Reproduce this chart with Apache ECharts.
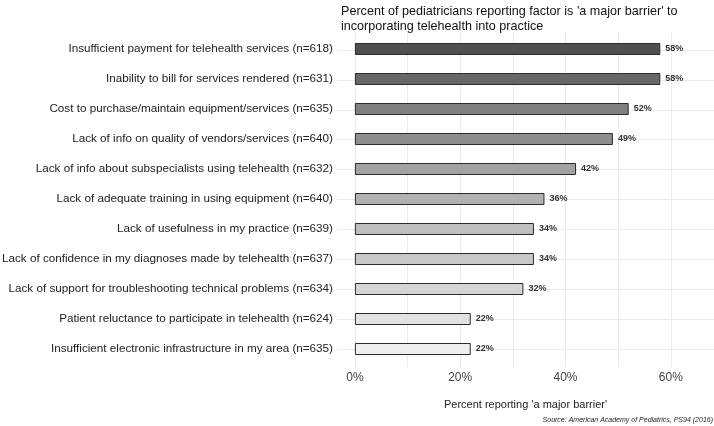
<!DOCTYPE html>
<html><head><meta charset="utf-8">
<script src="https://cdn.jsdelivr.net/npm/echarts@6/dist/echarts.min.js"></script>
<style>html,body{margin:0;padding:0;background:#fff}#c{width:714px;height:426px}</style>
</head><body><div id="c"></div>
<script>
const categories = [
  "Insufficient payment for telehealth services (n=618)",
  "Inability to bill for services rendered (n=631)",
  "Cost to purchase/maintain equipment/services (n=635)",
  "Lack of info on quality of vendors/services (n=640)",
  "Lack of info about subspecialists using telehealth (n=632)",
  "Lack of adequate training in using equipment (n=640)",
  "Lack of usefulness in my practice (n=639)",
  "Lack of confidence in my diagnoses made by telehealth (n=637)",
  "Lack of support for troubleshooting technical problems (n=634)",
  "Patient reluctance to participate in telehealth (n=624)",
  "Insufficient electronic infrastructure in my area (n=635)"
];
const values = [58, 58, 52, 49, 42, 36, 34, 34, 32, 22, 22];
const fills = ["#4f4f4f","#676767","#808080","#8e8e8e","#a2a2a2","#b1b1b1","#bebebe","#c8c8c8","#d4d4d4","#e2e2e2","#eeeeee"];
const xTicks = [0, 20, 40, 60];
const xGrid = [0, 10, 20, 30, 40, 50, 60];

const FONT = "'Liberation Sans', Arial, sans-serif";
const chart = echarts.init(document.getElementById('c'), null, {renderer: 'canvas'});
const xmin = -3.4, xmax = 68.2;
chart.setOption({
  animation: false,
  textStyle: {fontFamily: FONT},
  title: {
    text: "Percent of pediatricians reporting factor is 'a major barrier' to\nincorporating telehealth into practice",
    left: 341, top: 4, padding: 0,
    textStyle: {fontSize: 12.6, fontWeight: 'normal', color: '#111', lineHeight: 15, fontFamily: FONT}
  },
  grid: [
    {left: 337, right: 0, top: 32, height: 335, outerBoundsMode: 'none', containLabel: false},
    {left: 337, right: 0, top: 34, height: 330, outerBoundsMode: 'none', containLabel: false}
  ],
  xAxis: [
    {gridIndex: 0, type: 'value', min: xmin, max: xmax,
     axisLine: {show: false}, axisTick: {show: false}, splitLine: {show: false},
     axisLabel: {customValues: xTicks, formatter: '{value}%', fontSize: 12, color: '#444', margin: 5, fontFamily: FONT},
     name: "Percent reporting 'a major barrier'", nameLocation: 'middle', nameGap: 32,
     nameTextStyle: {fontSize: 11, color: '#222', fontFamily: FONT}},
    {gridIndex: 1, type: 'value', min: xmin, max: xmax, show: false}
  ],
  yAxis: [
    {gridIndex: 0, type: 'value', min: 0.4, max: 11.6, inverse: true, show: false},
    {gridIndex: 1, type: 'category', inverse: true, data: categories,
     axisLine: {show: false}, axisTick: {show: false}, splitLine: {show: false},
     axisLabel: {fontSize: 11.7, color: '#222', margin: 4, fontFamily: FONT}}
  ],
  series: [
    {type: 'scatter', xAxisIndex: 0, yAxisIndex: 0, data: [], silent: true, z: 0,
     markLine: {silent: true, symbol: 'none', label: {show: false}, z: 0,
       lineStyle: {color: '#ebebeb', width: 1, type: 'solid'},
       data: xGrid.map(v => ({xAxis: v})).concat(categories.map((c, i) => ({yAxis: i + 1})))}},
    {type: 'bar', xAxisIndex: 1, yAxisIndex: 1, barWidth: 12, z: 5,
     data: values.map((v, i) => ({value: v, itemStyle: {color: fills[i]}})),
     itemStyle: {borderColor: '#2b2b2b', borderWidth: 1},
     label: {show: true, position: 'right', distance: 5, formatter: '{c}%',
       fontSize: 9, fontWeight: 'bold', color: '#333', fontFamily: FONT}}
  ],
  graphic: [{type: 'text', right: 1, top: 417, z: 10,
    style: {text: 'Source: American Academy of Pediatrics, PS94 (2016)', fill: '#222', font: "italic 7px 'Liberation Sans', Arial, sans-serif"}}]
});
</script></body></html>
